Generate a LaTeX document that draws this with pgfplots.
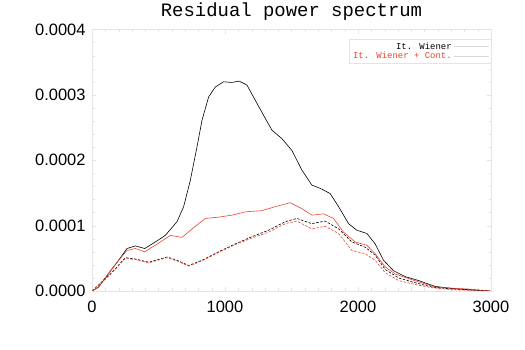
\documentclass[border=0pt]{standalone}
\usepackage{fontspec}
\setmainfont{Liberation Sans}
\newfontfamily\monofont{Liberation Mono}
\usepackage{pgfplots}
\pgfplotsset{compat=1.18}
\definecolor{myred}{RGB}{232,70,50}
\definecolor{framegray}{RGB}{228,228,228}
\begin{document}
\begin{tikzpicture}
\path[use as bounding box] (0,0) rectangle (525bp,350bp);
\begin{axis}[
  at={(92bp,59bp)}, anchor=south west,
  scale only axis, width=399bp, height=261.5bp,
  xmin=0, xmax=3000, ymin=0, ymax=0.0004,
  axis line style={framegray},
  tick style={framegray},
  major tick length=4bp, minor tick length=2.5bp,
  xtick={0,1000,2000,3000},
  xticklabels={0,1000,2000,3000},
  ytick={0,0.0001,0.0002,0.0003,0.0004},
  yticklabels={0.0000,0.0001,0.0002,0.0003,0.0004},
  minor x tick num=9, minor y tick num=4,
  scaled y ticks=false,
  xticklabel style={font=\fontsize{16.5}{18}\selectfont, yshift=-7bp},
  yticklabel style={font=\fontsize{16.5}{18}\selectfont, xshift=-3bp},
  /pgf/number format/assume math mode=true,
  title={\monofont Residual power spectrum},
  title style={font=\fontsize{19}{21}\selectfont, at={(0.5,1)}, anchor=base, yshift=7.5bp},
  legend style={at={(1,1)}, anchor=north east, yshift=-9.5bp, draw=framegray,
    font=\fontsize{9}{10}\selectfont\monofont, row sep=-2.5bp, inner sep=1.5bp},
  legend cell align=right,
  legend plot pos=right,
  legend image code/.code={\draw[#1] (0bp,0bp) -- (35bp,0bp);},
]
% black solid
\addplot[black, line width=0.6bp, forget plot] coordinates {
(0,0) (50,0.000006) (125,0.000027) (200,0.000047) (263,0.000065) (326,0.000069) (396,0.000065) (476,0.000075) (551,0.000085) (639,0.000106) (689,0.000129) (739,0.000169) (789,0.000220) (827,0.000261) (877,0.000297) (927,0.000312) (989,0.000320) (1052,0.000319) (1107,0.000321) (1165,0.000315) (1227,0.000292) (1303,0.000264) (1353,0.000246) (1428,0.000233) (1503,0.000215) (1578,0.000185) (1653,0.000162) (1716,0.000157) (1791,0.000149) (1854,0.000129) (1929,0.000103) (1991,0.000093) (2067,0.000088) (2129,0.000072) (2192,0.000047) (2267,0.000031) (2355,0.000022) (2455,0.000016) (2580,0.000007) (2705,0.000004) (2831,0.000002) (2993,0.0)
};
% red solid
\addplot[myred, line width=0.6bp, forget plot] coordinates {
(0,0) (50,0.000006) (125,0.000027) (200,0.000047) (263,0.000062) (326,0.000065) (396,0.000060) (476,0.000070) (589,0.000085) (676,0.000082) (789,0.000101) (852,0.000111) (952,0.000113) (1052,0.000116) (1152,0.000121) (1278,0.000123) (1378,0.000129) (1490,0.000135) (1578,0.000126) (1653,0.000116) (1741,0.000118) (1816,0.000111) (1891,0.000090) (1979,0.000075) (2067,0.000070) (2129,0.000057) (2204,0.000037) (2280,0.000026) (2380,0.000019) (2455,0.000014) (2580,0.000006) (2730,0.000004) (2831,0.000003) (2993,0.0)
};
% black dashed
\addplot[black, line width=0.6bp, dash pattern=on 2.5bp off 1.5bp, forget plot] coordinates {
(0,0) (100,0.000019) (175,0.000034) (250,0.000051) (326,0.000049) (426,0.000044) (564,0.000052) (639,0.000047) (727,0.000039) (827,0.000047) (952,0.000060) (1077,0.000072) (1202,0.000083) (1328,0.000093) (1453,0.000106) (1540,0.000111) (1653,0.000103) (1753,0.000107) (1854,0.000095) (1954,0.000075) (2054,0.000067) (2129,0.000055) (2204,0.000033) (2305,0.000020) (2405,0.000014) (2555,0.000006) (2705,0.000003) (2993,0.0)
};
% red dashed
\addplot[myred, line width=0.6bp, dash pattern=on 2.5bp off 1.5bp, forget plot] coordinates {
(0,0) (100,0.000018) (175,0.000033) (250,0.000050) (326,0.000048) (426,0.000043) (564,0.000051) (639,0.000046) (727,0.000038) (827,0.000046) (952,0.000059) (1077,0.000071) (1202,0.000081) (1328,0.000090) (1453,0.000103) (1540,0.000107) (1653,0.000095) (1753,0.000099) (1854,0.000088) (1954,0.000062) (2054,0.000057) (2129,0.000047) (2204,0.000028) (2305,0.000016) (2405,0.000011) (2555,0.000005) (2705,0.000002) (2993,0.0)
};
\addlegendimage{gray!30, line width=0.6bp}
\addlegendentry[text=black]{It. Wiener}
\addlegendimage{gray!30, line width=0.6bp}
\addlegendentry[text=myred]{It. Wiener + Cont.}
\end{axis}
\end{tikzpicture}
\end{document}
